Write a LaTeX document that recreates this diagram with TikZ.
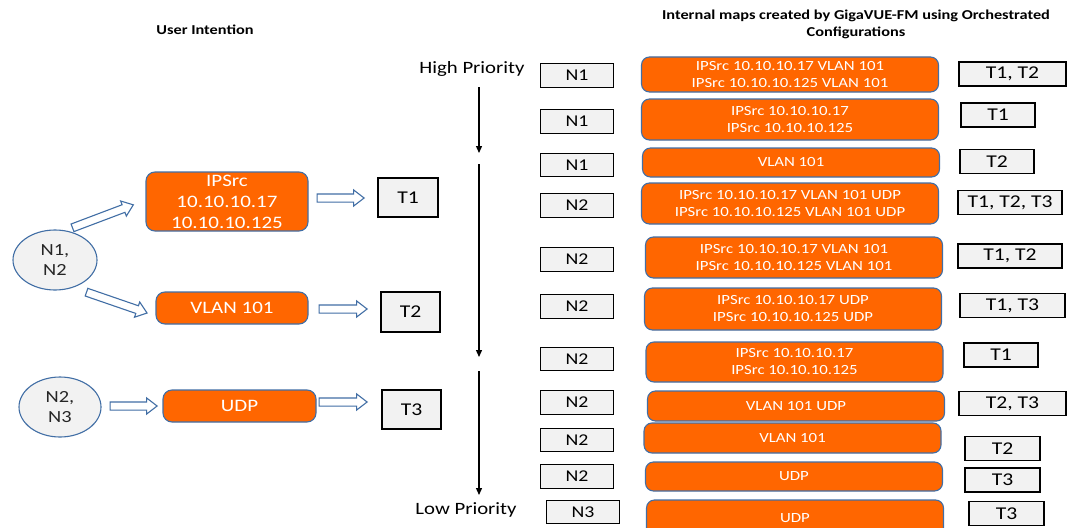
\documentclass[tikz,border=0pt]{standalone}
\usepackage{fontspec}
\setmainfont{Carlito}[FakeStretch=1.2]
\usetikzlibrary{shapes.geometric,shapes.arrows,arrows.meta,calc}
\definecolor{maporange}{RGB}{255,102,0}
\definecolor{edgeblue}{RGB}{65,110,165}
\definecolor{boxgray}{RGB}{242,242,242}
\begin{document}
\begin{tikzpicture}[x=1pt,y=-1pt,
  heading/.style={font=\bfseries\fontsize{13.6}{17}\selectfont,align=center},
  prio/.style={font=\fontsize{17.3}{20}\selectfont},
  intent/.style={draw=edgeblue,line width=1.1,fill=maporange,text=white,rounded corners=9,
    align=center,inner sep=0,font=\fontsize{17.5}{21}\selectfont},
  mapbox/.style={draw=edgeblue,line width=1.1,fill=maporange,text=white,rounded corners=8,
    align=center,inner sep=0,minimum width=297,font=\fontsize{14}{17}\selectfont},
  tapbox/.style={draw,line width=1.3,fill=boxgray,inner sep=0,font=\fontsize{18}{21}\selectfont},
  nbox/.style={tapbox,minimum width=73,minimum height=23.5,font=\fontsize{16.5}{20}\selectfont},
  nodeset/.style={ellipse,draw=edgeblue,line width=1.1,fill=boxgray,inner sep=0,align=center,
    text=black!85,font=\fontsize{17}{20}\selectfont},
  barrow/.style={single arrow,draw=edgeblue,fill=white,line width=1.1,inner xsep=0,inner ysep=3.5,
    single arrow head extend=4,single arrow tip angle=75,anchor=tail},
  order/.style={line width=1.3,-{Triangle[length=7pt,width=6pt]}}]
  \clip (0,0) rectangle (1091,527);
  \fill[white] (0,0) rectangle (1091,527);

  % left: what the user asked for
  \node[heading] (uhead) at (205,30) {User Intention};
  \node[nodeset,minimum width=84,minimum height=60] (n12) at (55,260) {N1,\\N2};
  \node[nodeset,minimum width=82,minimum height=60] (n23) at (60,407) {N2,\\N3};
  \node[intent,minimum width=162,minimum height=59] (ipsrc) at (227,201.5) {IPSrc\\10.10.10.17\\10.10.10.125};
  \node[intent,minimum width=152,minimum height=32] (vlan) at (232,308) {VLAN 101};
  \node[intent,minimum width=153,minimum height=32] (udp) at (239.5,406) {UDP};
  \node[tapbox,minimum width=60,minimum height=39] (t1) at (408,197.5) {T1};
  \node[tapbox,minimum width=59,minimum height=40] (t2) at (410.5,312) {T2};
  \node[tapbox,minimum width=59,minimum height=39] (t3) at (411.5,409.5) {T3};

  \node[barrow,minimum height=65,rotate=20.7] (a1) at ($(n12)+(17,-32)$) {};
  \node[barrow,minimum height=64,rotate=-19] (a2) at ($(n12)+(31,32)$) {};
  \node[barrow,minimum height=47] (a3) at ($(n23.east)+(8,-1)$) {};
  \node[barrow,minimum height=47] (a4) at ($(ipsrc.east)+(8,-3.5)$) {};
  \node[barrow,minimum height=48] (a5) at ($(vlan.east)+(10,1)$) {};
  \node[barrow,minimum height=48] (a6) at ($(udp.east)+(2,-4)$) {};

  % right: maps built from it
  \node[heading] (mhead) at (856,24) {Internal maps created by GigaVUE-FM using Orchestrated\\Configurations};
  \node[prio] (hip) at (472,69) {High Priority};
  \node[prio] (lowp) at (466,510) {Low Priority};
  \coordinate (o1) at (479,87);
  \coordinate (o2) at (479,153);
  \coordinate (o3) at (479,164);
  \coordinate (o4) at (479,357);
  \coordinate (o5) at (479,371);
  \coordinate (o6) at (479,495);
  \draw[order] (o1) -- (o2);
  \draw[order] (o3) -- (o4);
  \draw[order] (o5) -- (o6);

  \foreach \x/\y/\lab [count=\i] in {577/75.5/N1,577/121.5/N1,577/165/N1,577/205.5/N2,577/259.5/N2,
      577/306.5/N2,577/359/N2,577/402.5/N2,577/440/N2,577/476.5/N2,583/512/N3}
    \node[nbox] (n\i) at (\x,\y) {\lab};

  \foreach \x/\y/\h/\txt [count=\i] in {
      790/74.5/35/{IPSrc 10.10.10.17 VLAN 101\\IPSrc 10.10.10.125 VLAN 101},
      790/119.5/41/{IPSrc 10.10.10.17\\IPSrc 10.10.10.125},
      791/162.5/29/{VLAN 101},
      790/203.5/41/{IPSrc 10.10.10.17 VLAN 101 UDP\\IPSrc 10.10.10.125 VLAN 101 UDP},
      794/257.5/41/{IPSrc 10.10.10.17 VLAN 101\\IPSrc 10.10.10.125 VLAN 101},
      793/309/42/{IPSrc 10.10.10.17 UDP\\IPSrc 10.10.10.125 UDP},
      794.5/362/40/{IPSrc 10.10.10.17\\IPSrc 10.10.10.125},
      796/406/30/{VLAN 101 UDP},
      792.5/438/30/{VLAN 101},
      794/476.5/29/{UDP},
      795/518/36/{UDP}}
    \node[mapbox,minimum height=\h] (m\i) at (\x,\y) {\txt};

  \foreach \x/\y/\w/\lab [count=\i] in {1012.5/74/107/{T1, T2},998/115/74/T1,997/161.5/74/T2,
      1010/202.5/104/{T1, T2, T3},1010/256/104/{T1, T2},1012.5/305.5/105/{T1, T3},1001/355/74/T1,
      1012.5/403.5/107/{T2, T3},1002.5/448.5/75/T2,1002.5/480/75/T3,1006.5/513.5/75/T3}
    \node[tapbox,minimum width=\w,minimum height=24] (tm\i) at (\x,\y) {\lab};
\end{tikzpicture}
\end{document}
